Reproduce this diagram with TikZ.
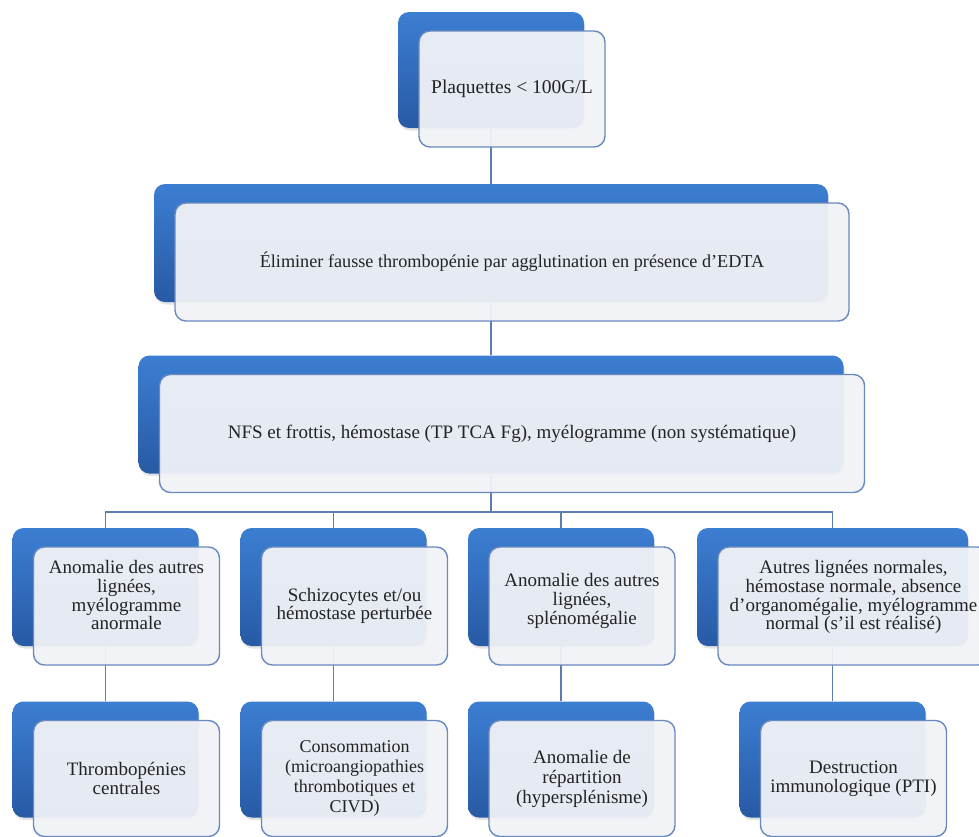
\documentclass[tikz,border=0pt]{standalone}
\usepackage{fontspec}
\setmainfont{Liberation Serif}
\usetikzlibrary{shadows}
\definecolor{bluetop}{RGB}{60,126,210}
\definecolor{bluebot}{RGB}{40,90,165}
\definecolor{frontfill}{RGB}{240,242,247}
\definecolor{frontline}{RGB}{105,137,190}
\definecolor{connline}{RGB}{92,124,178}
\definecolor{txt}{RGB}{35,35,35}
\tikzset{
  backbox/.style={rounded corners=11pt, inner sep=0pt, top color=bluetop, bottom color=bluebot,
    draw=none, drop shadow={shadow xshift=1pt, shadow yshift=-2.5pt, opacity=0.22}},
  frontbox/.style={rounded corners=11pt, inner sep=2pt, draw=frontline, line width=1.4pt,
    fill=frontfill, fill opacity=0.95, text opacity=1, text=txt, align=center,
    font=\fontsize{19}{18.8}\selectfont},
  conn/.style={draw=connline, line width=1.4pt}
}
\begin{document}
\begin{tikzpicture}[x=1pt,y=-1pt]
\useasboundingbox (0,0) rectangle (979,836);
% back boxes (blue)
\node[backbox, minimum width=186pt, minimum height=116pt] (top-b) at (491,70) {};
\node[backbox, minimum width=674pt, minimum height=118pt] (l2-b) at (491,243) {};
\node[backbox, minimum width=705pt, minimum height=118pt] (l3-b) at (491,414.5) {};
\node[backbox, minimum width=186pt, minimum height=118pt] (a4-b) at (105.5,587) {};
\node[backbox, minimum width=186pt, minimum height=118pt] (b4-b) at (333.5,587) {};
\node[backbox, minimum width=186pt, minimum height=118pt] (c4-b) at (561,587) {};
\node[backbox, minimum width=271pt, minimum height=118pt] (d4-b) at (832.5,587) {};
\node[backbox, minimum width=186pt, minimum height=116pt] (a5-b) at (105.5,759.5) {};
\node[backbox, minimum width=186pt, minimum height=116pt] (b5-b) at (333.5,759.5) {};
\node[backbox, minimum width=186pt, minimum height=116pt] (c5-b) at (561,759.5) {};
\node[backbox, minimum width=186pt, minimum height=116pt] (d5-b) at (832.5,759.5) {};
\coordinate (bus) at (491,512);
% connectors
\draw[conn] (top-b.south) -- (l2-b.north);
\draw[conn] (l2-b.south) -- (l3-b.north);
\draw[conn] (l3-b.south) -- (l3-b.south |- bus);
\foreach \n in {a4,b4,c4,d4}{
  \draw[conn] (l3-b.south |- bus) -| (\n-b.north);
}
\draw[conn] (a4-b.south) -- (a5-b.north);
\draw[conn] (b4-b.south) -- (b5-b.north);
\draw[conn] (c4-b.south) -- (c5-b.north);
\draw[conn] (d4-b.south) -- (d5-b.north);
% front boxes
\node[frontbox, minimum width=186pt, minimum height=116pt, xshift=21pt, yshift=-19pt, font=\fontsize{19.5}{20}\selectfont] (top) at (top-b.center) {Plaquettes < 100G/L};
\node[frontbox, minimum width=674pt, minimum height=118pt, xshift=21pt, yshift=-19pt, font=\fontsize{18.2}{19}\selectfont] (l2) at (l2-b.center) {Éliminer fausse thrombopénie par agglutination en présence d’EDTA};
\node[frontbox, minimum width=705pt, minimum height=118pt, xshift=21pt, yshift=-19pt] (l3) at (l3-b.center) {NFS et frottis, hémostase (TP TCA Fg), myélogramme (non systématique)};
\node[frontbox, minimum width=186pt, minimum height=118pt, xshift=21pt, yshift=-19pt, text depth=22pt] (a4) at (a4-b.center) {Anomalie des autres\\lignées,\\myélogramme\\anormale};
\node[frontbox, minimum width=186pt, minimum height=118pt, xshift=21pt, yshift=-19pt] (b4) at (b4-b.center) {Schizocytes et/ou\\hémostase perturbée};
\node[frontbox, minimum width=186pt, minimum height=118pt, xshift=21pt, yshift=-19pt, text depth=14pt] (c4) at (c4-b.center) {Anomalie des autres\\lignées,\\splénomégalie};
\node[frontbox, minimum width=271pt, minimum height=118pt, xshift=21pt, yshift=-19pt, text depth=22pt] (d4) at (d4-b.center) {Autres lignées normales,\\hémostase normale, absence\\d’organomégalie, myélogramme\\normal (s’il est réalisé)};
\node[frontbox, minimum width=186pt, minimum height=116pt, xshift=21pt, yshift=-19pt] (a5) at (a5-b.center) {Thrombopénies\\centrales};
\node[frontbox, minimum width=186pt, minimum height=116pt, xshift=21pt, yshift=-19pt, font=\fontsize{18}{20}\selectfont] (b5) at (b5-b.center) {Consommation\\(microangiopathies\\thrombotiques et\\CIVD)};
\node[frontbox, minimum width=186pt, minimum height=116pt, xshift=21pt, yshift=-19pt, font=\fontsize{19}{20}\selectfont] (c5) at (c5-b.center) {Anomalie de\\répartition\\(hypersplénisme)};
\node[frontbox, minimum width=186pt, minimum height=116pt, xshift=21pt, yshift=-19pt] (d5) at (d5-b.center) {Destruction\\immunologique (PTI)};
\end{tikzpicture}
\end{document}
